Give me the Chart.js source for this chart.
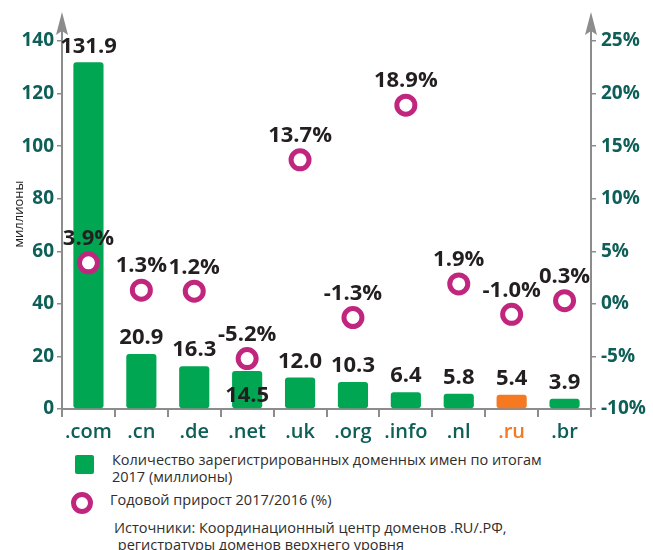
<!DOCTYPE html>
<html>
<head>
<meta charset="utf-8">
<script src="https://cdn.jsdelivr.net/npm/chart.js@4"></script>
<style>
  body { margin: 0; background: #fff; font-family: "Open Sans", sans-serif; }
  #wrap { position: relative; width: 653px; height: 550px; }
  #chart { position: absolute; left: 0; top: 0; }
  .legend-text { position: absolute; color: #2e2e2e; font-size: 14.5px; line-height: 17px; white-space: nowrap; }
  .sq { position: absolute; left: 75px; top: 455px; width: 19px; height: 19px; background: #00a651; border-radius: 2px; }
  .ring { position: absolute; left: 71px; top: 492px; width: 12px; height: 12px; border: 5px solid #c0267e; border-radius: 50%; }
</style>
</head>
<body>
<div id="wrap">
  <canvas id="chart" width="653" height="449"></canvas>
  <div class="sq"></div>
  <div class="legend-text" style="left:112px; top:451px;">Количество зарегистрированных доменных имен по итогам<br>2017 (миллионы)</div>
  <div class="ring"></div>
  <div class="legend-text" style="left:110px; top:491px;">Годовой прирост 2017/2016 (%)</div>
  <div class="legend-text" style="left:114px; top:519px;">Источники: Координационный центр доменов .RU/.РФ,<br>&nbsp;регистратуры доменов верхнего уровня</div>
</div>
<script>
const domains = [".com", ".cn", ".de", ".net", ".uk", ".org", ".info", ".nl", ".ru", ".br"];
const registered = [131.9, 20.9, 16.3, 14.5, 12.0, 10.3, 6.4, 5.8, 5.4, 3.9];
const growth = [3.9, 1.3, 1.2, -5.2, 13.7, -1.3, 18.9, 1.9, -1.0, 0.3];
const highlight = ".ru";

const GREEN = "#00a651";
const ORANGE = "#f47920";
const MAGENTA = "#c0267e";
const TEAL = "#0d5f57";
const AXIS = "#8c8c8c";
const FONT = '"Open Sans", sans-serif';

// value labels above bars and points, axis arrows, axis title
const valueLabels = {
  id: "valueLabels",
  afterDatasetsDraw(chart) {
    const ctx = chart.ctx;
    const bars = chart.getDatasetMeta(0).data;
    const dots = chart.getDatasetMeta(1).data;
    ctx.save();
    ctx.font = "bold 22px " + FONT;
    ctx.fillStyle = "#231f20";
    ctx.textAlign = "center";
    ctx.textBaseline = "middle";
    bars.forEach((bar, i) => {
      let y = bar.y - 16;
      // label would sit on the ring -> put it inside the bar
      if (Math.abs(dots[i].y - y) < 22) y = bar.y + 25;
      ctx.fillText(registered[i].toFixed(1), bar.x, y);
    });
    dots.forEach((p, i) => {
      ctx.fillText(growth[i].toFixed(1) + "%", p.x, p.y - 24);
    });
    ctx.restore();
  },
  afterDraw(chart) {
    const ctx = chart.ctx;
    const area = chart.chartArea;
    ctx.save();
    ctx.strokeStyle = AXIS;
    ctx.fillStyle = AXIS;
    ctx.lineWidth = 2;
    [area.left, area.right].forEach(x => {
      ctx.beginPath();
      ctx.moveTo(x, area.top);
      ctx.lineTo(x, 30);
      ctx.stroke();
      ctx.beginPath();
      ctx.moveTo(x, 12);
      ctx.lineTo(x - 6, 35);
      ctx.lineTo(x, 31);
      ctx.lineTo(x + 6, 35);
      ctx.closePath();
      ctx.fill();
    });
    ctx.translate(19, 214);
    ctx.rotate(-Math.PI / 2);
    ctx.font = "13px " + FONT;
    ctx.fillStyle = "#231f20";
    ctx.textAlign = "center";
    ctx.textBaseline = "middle";
    ctx.fillText("миллионы", 0, 0);
    ctx.restore();
  }
};

new Chart(document.getElementById("chart"), {
  data: {
    labels: domains,
    datasets: [
      {
        type: "bar",
        data: registered,
        yAxisID: "y",
        order: 2,
        backgroundColor: domains.map(d => d === highlight ? ORANGE : GREEN),
        borderRadius: 3,
        borderSkipped: false,
        categoryPercentage: 1,
        barPercentage: 0.57,
      },
      {
        type: "line",
        data: growth,
        yAxisID: "y1",
        order: 1,
        showLine: false,
        pointRadius: 9,
        pointBorderWidth: 5,
        pointBorderColor: MAGENTA,
        pointBackgroundColor: "#fff",
      },
    ],
  },
  options: {
    responsive: false,
    animation: false,
    layout: { padding: { top: 41, left: 0, right: 0, bottom: 0 } },
    plugins: { legend: { display: false }, tooltip: { enabled: false } },
    scales: {
      x: {
        afterFit: s => { s.height = 40; },
        grid: { offset: true, drawOnChartArea: false, tickLength: 8, color: AXIS, lineWidth: 2 },
        border: { color: AXIS, width: 2 },
        ticks: {
          padding: 3,
          font: { family: FONT, size: 20, weight: "600" },
          color: c => domains[c.index] === highlight ? ORANGE : TEAL,
        },
      },
      y: {
        position: "left",
        min: 0,
        max: 140,
        afterFit: s => { s.width = 62; },
        grid: { drawOnChartArea: false, tickLength: 5, color: AXIS, lineWidth: 1.5 },
        border: { color: AXIS, width: 2 },
        ticks: {
          stepSize: 20,
          padding: 3,
          font: { family: FONT, size: 19, weight: "bold" },
          color: TEAL,
        },
      },
      y1: {
        position: "right",
        min: -10,
        max: 25,
        afterFit: s => { s.width = 62; },
        grid: { drawOnChartArea: false, tickLength: 5, color: AXIS, lineWidth: 1.5 },
        border: { color: AXIS, width: 2 },
        ticks: {
          stepSize: 5,
          padding: 5,
          font: { family: FONT, size: 19, weight: "bold" },
          color: TEAL,
          callback: v => v + "%",
        },
      },
    },
  },
  plugins: [valueLabels],
});
</script>
</body>
</html>
